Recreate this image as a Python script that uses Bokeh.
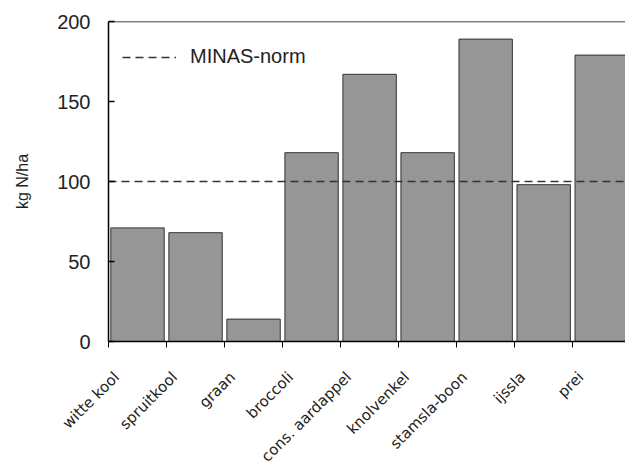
import math
from bokeh.plotting import figure
from bokeh.models import (Range1d, FixedTicker, Span, Legend, LegendItem,
                          ColumnDataSource)
from bokeh.embed import file_html
from bokeh.resources import INLINE

categories = ["witte kool", "spruitkool", "graan", "broccoli", "cons. aardappel",
              "knolvenkel", "stamsla-boon", "ijssla", "prei"]
values = [71, 68, 14, 118, 167, 118, 189, 98, 179]
minas_norm = 100
y_ticks = [0, 50, 100, 150, 200]

n = len(categories)
centers = [i + 0.5 for i in range(n)]
label_pos = [c - 0.36 for c in centers]

p = figure(width=625, height=475, output_backend="svg", toolbar_location=None,
           x_range=Range1d(0, 8.91), y_range=Range1d(0, 200),
           min_border_left=108, min_border_right=0, min_border_top=21,
           min_border_bottom=134)
p.outline_line_color = None
p.background_fill_color = "white"
p.border_fill_color = "white"
p.xgrid.visible = False
p.ygrid.visible = False

src = ColumnDataSource(dict(x=centers, top=values))
p.vbar(x="x", top="top", width=0.92, bottom=0, source=src,
       fill_color="#969696", line_color="#333333", line_width=1)

# top border
p.add_layout(Span(location=200, dimension="width", line_color="black", line_width=1.5))

norm = p.line(x=[0, 8.91], y=[minas_norm, minas_norm], line_color="#333333",
              line_width=1.5, line_dash="8 5")

legend = Legend(items=[LegendItem(label="MINAS-norm", renderers=[norm])],
                location=(14, 273), border_line_color=None,
                background_fill_alpha=0, padding=0, margin=0,
                glyph_width=54, label_standoff=14,
                label_text_font="Liberation Sans", label_text_font_size="20px",
                label_text_color="#222222")
p.add_layout(legend)

# y axis
ya = p.yaxis[0]
ya.ticker = FixedTicker(ticks=y_ticks)
ya.major_tick_in = 6
ya.major_tick_out = 0
ya.minor_tick_line_color = None
ya.axis_line_width = 1.5
ya.major_tick_line_width = 1.5
ya.major_label_standoff = 18
ya.major_label_text_font = "Liberation Sans"
ya.major_label_text_font_size = "20px"
ya.major_label_text_color = "#222222"
ya.axis_label = "kg N/ha"
ya.axis_label_text_font = "Liberation Sans"
ya.axis_label_text_font_size = "16px"
ya.axis_label_text_font_style = "normal"
ya.axis_label_text_color = "#222222"
ya.axis_label_standoff = 23

# x axis: ticks at category boundaries (minor), labels near category centres
xa = p.xaxis[0]
xa.ticker = FixedTicker(ticks=label_pos, minor_ticks=list(range(n + 1)))
xa.major_label_overrides = {lp: c for lp, c in zip(label_pos, categories)}
xa.major_tick_line_color = None
xa.major_tick_in = 0
xa.major_tick_out = 0
xa.minor_tick_in = 0
xa.minor_tick_out = 6
xa.minor_tick_line_color = "black"
xa.minor_tick_line_width = 1
xa.axis_line_width = 1.5
xa.major_label_orientation = math.pi / 4
xa.major_label_standoff = 27
xa.major_label_text_font = "DejaVu Sans"
xa.major_label_text_font_size = "15px"
xa.major_label_text_color = "#222222"

open("out.html", "w").write(file_html(p, INLINE))
